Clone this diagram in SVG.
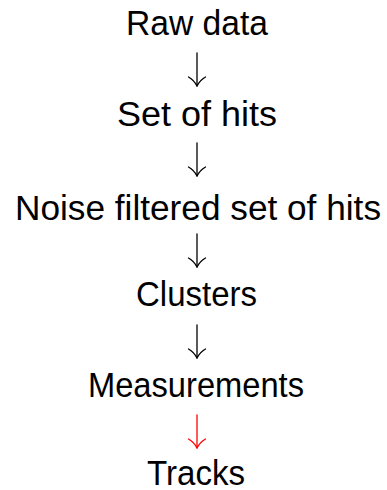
<svg xmlns="http://www.w3.org/2000/svg" xmlns:xlink="http://www.w3.org/1999/xlink" width="387" height="490" viewBox="0 0 387 490">
  <style>
    .lbl { font-family: "Liberation Sans", "DejaVu Sans", sans-serif; font-size: 35.5px; fill: #000; text-anchor: middle; }
    .arr { fill: none; stroke: currentColor; stroke-width: 1.3; stroke-linecap: round; }
  </style>
  <defs>
    <g id="downarrow" class="arr">
      <path d="M0,0 V33"/>
      <path d="M-8.5,24 Q-3,27 0,33 M8.5,24 Q3,27 0,33"/>
    </g>
  </defs>
  <rect width="387" height="490" fill="#fff"/>
  <g id="raw-data"><text class="lbl" x="197" y="35" textLength="142" lengthAdjust="spacingAndGlyphs">Raw data</text></g>
  <g id="set-of-hits"><text class="lbl" x="197" y="126" textLength="160" lengthAdjust="spacingAndGlyphs">Set of hits</text></g>
  <g id="noise-filtered"><text class="lbl" x="198" y="220" textLength="366" lengthAdjust="spacingAndGlyphs">Noise filtered set of hits</text></g>
  <g id="clusters"><text class="lbl" x="196.5" y="306" textLength="121" lengthAdjust="spacingAndGlyphs">Clusters</text></g>
  <g id="measurements"><text class="lbl" x="196" y="397" textLength="216" lengthAdjust="spacingAndGlyphs">Measurements</text></g>
  <g id="tracks"><text class="lbl" x="196" y="485" textLength="98" lengthAdjust="spacingAndGlyphs">Tracks</text></g>
  <g id="connectors">
    <use xlink:href="#downarrow" href="#downarrow" x="197" y="53" style="color:#000"/>
    <use xlink:href="#downarrow" href="#downarrow" x="197" y="143" style="color:#000"/>
    <use xlink:href="#downarrow" href="#downarrow" x="197" y="234" style="color:#000"/>
    <use xlink:href="#downarrow" href="#downarrow" x="197" y="325" style="color:#000"/>
    <use xlink:href="#downarrow" href="#downarrow" x="197" y="415" style="color:#ff0000"/>
  </g>
</svg>
